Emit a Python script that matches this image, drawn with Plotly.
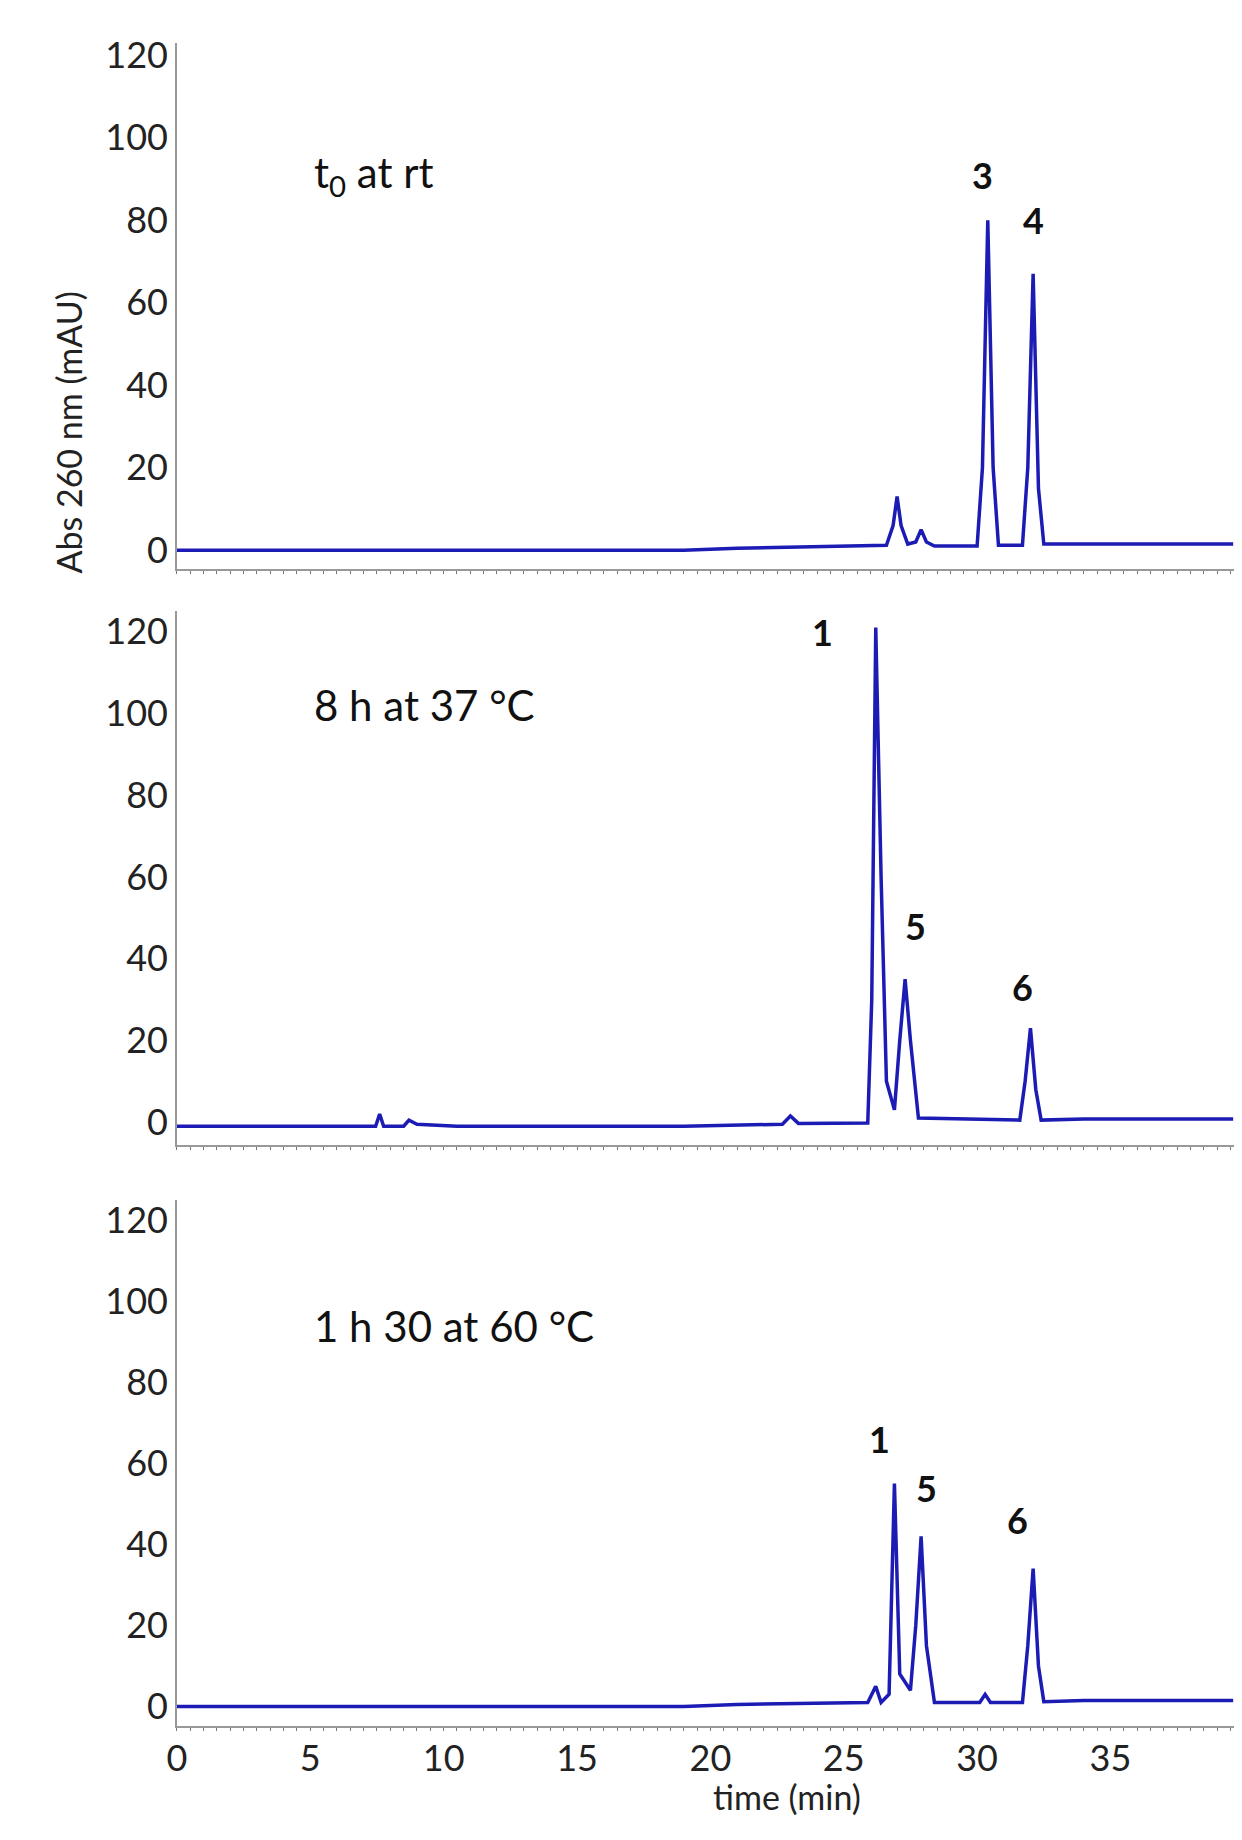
import plotly.graph_objects as go

# Chromatogram traces (time in min, absorbance in mAU)
t0_time = [0, 19, 21, 24.5, 26.6, 26.85, 27.0, 27.15, 27.4, 27.7, 27.9, 28.1, 28.4,
           30.0, 30.2, 30.4, 30.6, 30.8, 31.7, 31.9, 32.1, 32.3, 32.5, 34, 39.6]
t0_abs = [0, 0, 0.5, 1, 1.2, 6, 13, 6, 1.5, 2, 5, 2, 1,
          1, 20, 80, 20, 1.2, 1.2, 20, 67, 15, 1.5, 1.5, 1.5]

h8_time = [0, 7.45, 7.6, 7.75, 8.5, 8.7, 9.0, 10.5, 19, 22.7, 23.0, 23.3, 25.9, 26.05,
           26.2, 26.4, 26.6, 26.9, 27.1, 27.3, 27.5, 27.8, 31.6, 31.8, 32.0, 32.2, 32.4, 34, 39.6]
h8_abs = [-1, -1, 2, -1, -1, 0.5, -0.5, -1, -1, -0.5, 1.5, -0.3, -0.2, 30,
          121, 60, 10, 3, 20, 35, 20, 1, 0.5, 10, 23, 8, 0.5, 0.8, 0.8]

h1_time = [0, 19, 21, 24.5, 25.9, 26.2, 26.4, 26.7, 26.9, 27.1, 27.5, 27.7, 27.9, 28.1, 28.4,
           30.1, 30.3, 30.5, 31.7, 31.9, 32.1, 32.3, 32.5, 34, 39.6]
h1_abs = [0, 0, 0.5, 0.8, 1, 5, 1, 3, 55, 8, 4, 20, 42, 15, 1,
          1, 3, 1, 1, 15, 34, 10, 1.2, 1.5, 1.5]

panel_labels = ["t<sub>0</sub> at rt", "8 h at 37 °C", "1 h 30 at 60 °C"]
panel_label_y = [91, 102, 94]
peak_labels = [["3", "4"], ["1", "5", "6"], ["1", "5", "6"]]
peak_x = [[30.2, 32.1], [24.2, 27.7, 31.7], [26.35, 28.1, 31.5]]
peak_y = [[91, 80], [120, 48, 33], [66, 54, 46]]

y_ranges = [[-4.6, 123], [-5.6, 125], [-4.9, 125]]
y_domains = [[0.699, 0.987], [0.384, 0.676], [0.066, 0.354]]

FONT = "Lato"
BLUE = "#1c1cb4"

fig = go.Figure()
series = [(t0_time, t0_abs), (h8_time, h8_abs), (h1_time, h1_abs)]
for i, (xs, ys) in enumerate(series):
    n = i + 1
    fig.add_trace(go.Scatter(x=xs, y=ys, mode="lines", line=dict(color=BLUE, width=3.5),
                             xaxis=f"x{n}", yaxis=f"y{n}", showlegend=False))
    axis_common = dict(showline=True, linecolor="#999", linewidth=1.5, showgrid=False, zeroline=False)
    fig.layout[f"xaxis{n}"] = dict(
        domain=[0.129, 0.995], range=[0, 40], anchor=f"y{n}",
        tickvals=[0, 5, 10, 15, 20, 25, 30, 35], showticklabels=(n == 3),
        ticks="", minor=dict(ticks="outside", dtick=0.5, ticklen=3, tickcolor="#777"),
        tickfont=dict(family=FONT, size=36, color="#222"), **axis_common)
    fig.layout[f"yaxis{n}"] = dict(
        domain=y_domains[i], range=y_ranges[i], anchor=f"x{n}",
        tickvals=[0, 20, 40, 60, 80, 100, 120], ticks="",
        tickfont=dict(family=FONT, size=36, color="#222"), **axis_common)
    fig.add_annotation(x=5.05, y=panel_label_y[i], xref=f"x{n}", yref=f"y{n}",
                       text=panel_labels[i], showarrow=False, xanchor="left",
                       font=dict(family=FONT, size=42, color="#111"))
    for lab, px_, py_ in zip(peak_labels[i], peak_x[i], peak_y[i]):
        fig.add_annotation(x=px_, y=py_, xref=f"x{n}", yref=f"y{n}", text=f"<b>{lab}</b>",
                           showarrow=False, font=dict(family=FONT, size=36, color="#111"))

fig.add_annotation(x=28 / 1242, y=1 - 272 / 1840, xref="paper", yref="paper",
                   text="Abs 260 nm (mAU)", textangle=-90, showarrow=False,
                   font=dict(family=FONT, size=34, color="#222"))
fig.add_annotation(x=775 / 1242, y=1 - 1812 / 1840, xref="paper", yref="paper",
                   text="time (min)", showarrow=False,
                   font=dict(family=FONT, size=34, color="#222"))

fig.update_layout(width=1242, height=1840, margin=dict(l=0, r=0, t=0, b=0),
                  plot_bgcolor="white", paper_bgcolor="white")
fig.write_html("out.html")
